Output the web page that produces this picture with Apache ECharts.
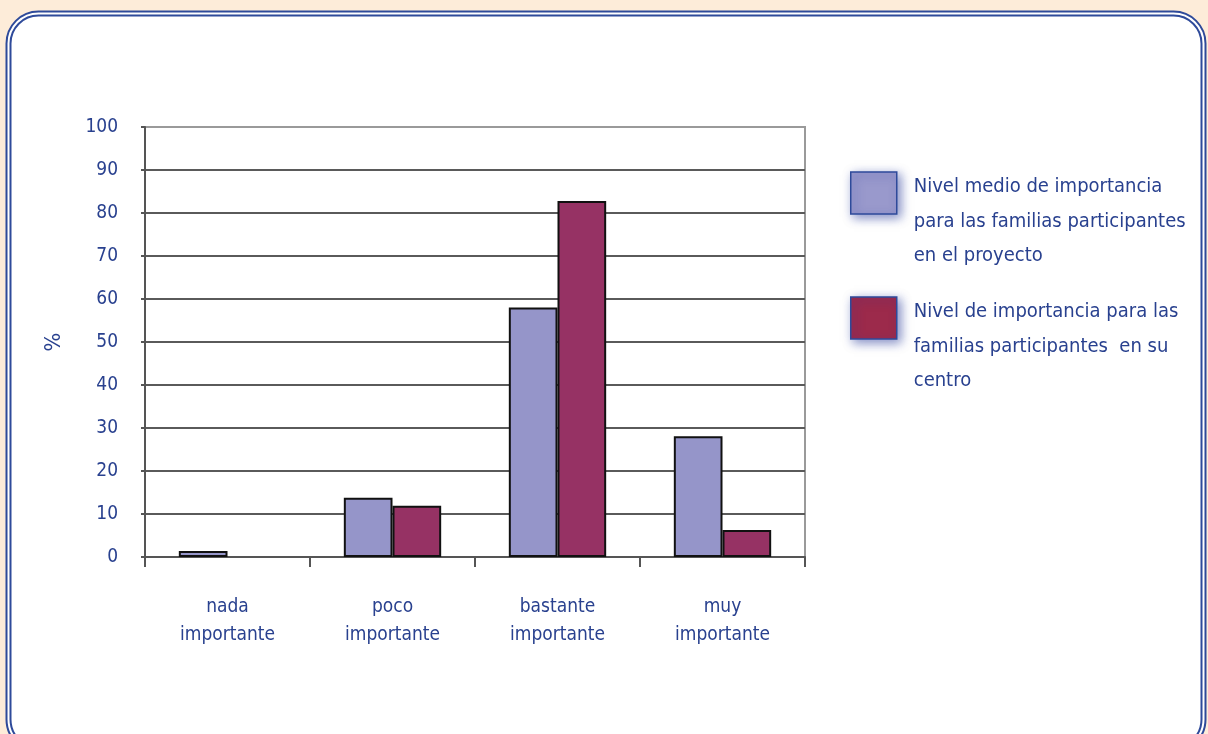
<!DOCTYPE html>
<html>
<head>
<meta charset="utf-8">
<script src="https://cdn.jsdelivr.net/npm/echarts@6/dist/echarts.min.js"></script>
<style>
html,body{margin:0;padding:0;background:#fdecd9;}
#chart{width:1208px;height:734px;}
</style>
</head>
<body>
<div id="chart"></div>
<script>
const categories = ['nada\nimportante', 'poco\nimportante', 'bastante\nimportante', 'muy\nimportante'];
const seriesNames = ['Nivel medio de importancia para las familias participantes en el proyecto',
                     'Nivel de importancia para las familias participantes en su centro'];
const legendLabels = ['Nivel medio de importancia\npara las familias participantes\nen el proyecto',
                      'Nivel de importancia para las\nfamilias participantes  en su\ncentro'];
const valuesProyecto = [1.4, 13.8, 58.0, 28.1];
const valuesCentro = [0, 11.9, 82.8, 6.3];
const yTicks = {min: 0, max: 100, interval: 10};
const yName = '%';

const FONT = '"DejaVu Sans Condensed", "Liberation Sans Narrow", "Noto Sans", sans-serif';
const TXT = '#29418f';
const BLUE = '#2e4a9a';

const chart = echarts.init(document.getElementById('chart'));

function legendFor(i, top, color) {
  return {
    show: true,
    orient: 'vertical',
    left: 850,
    top: top,
    padding: 0,
    icon: 'rect',
    itemWidth: 46,
    itemHeight: 42,
    selectedMode: false,
    data: [{name: seriesNames[i], itemStyle: {color: color}}],
    formatter: function () {
      return '{sp| }\n' + legendLabels[i].split('\n').map(function (l) { return '{t|' + l + '}'; }).join('\n');
    },
    itemStyle: {
      borderColor: BLUE, borderWidth: 1.5,
      shadowBlur: 10, shadowColor: 'rgba(30,50,150,0.55)', shadowOffsetX: 3, shadowOffsetY: 3
    },
    textStyle: {
      color: TXT, fontFamily: FONT, fontSize: 20, lineHeight: 34.5,
      padding: [0, 0, 0, 12],
      rich: {
        sp: {fontSize: 4, lineHeight: 57, fontFamily: FONT},
        t: {color: TXT, fontFamily: FONT, fontSize: 20, lineHeight: 34.5}
      }
    }
  };
}

function barData(values) {
  return values.map(function (v) {
    return v === 0 ? {value: v, itemStyle: {borderWidth: 0}} : v;
  });
}

chart.setOption({
  backgroundColor: '#fdecd9',
  animation: false,
  graphic: [
    {type: 'rect', z: -10, silent: true,
     shape: {x: 6.5, y: 11.5, width: 1199, height: 740, r: 32},
     style: {fill: '#ffffff', stroke: BLUE, lineWidth: 2}},
    {type: 'rect', z: -9, silent: true,
     shape: {x: 10.5, y: 15.5, width: 1191, height: 732, r: 28},
     style: {fill: '#ffffff', stroke: BLUE, lineWidth: 2}}
  ],
  grid: {left: 145, right: 403, top: 127, bottom: 177, show: true,
         borderColor: '#9a9a9a', borderWidth: 2, backgroundColor: 'transparent'},
  legend: [legendFor(0, 112.75, '#9999cc'), legendFor(1, 237.75, '#9c2a4b')],
  xAxis: {
    type: 'category',
    data: categories,
    axisLine: {lineStyle: {color: '#555', width: 2}},
    axisTick: {show: true, length: 10, lineStyle: {color: '#555', width: 2}},
    axisLabel: {color: TXT, fontFamily: FONT, fontSize: 19, lineHeight: 28, margin: 36}
  },
  yAxis: {
    type: 'value',
    min: yTicks.min, max: yTicks.max, interval: yTicks.interval,
    name: yName,
    nameLocation: 'middle',
    nameGap: 80,
    nameRotate: 90,
    nameTextStyle: {color: TXT, fontFamily: FONT, fontSize: 22},
    axisLine: {show: true, lineStyle: {color: '#555', width: 2}},
    axisTick: {show: true, length: 4, lineStyle: {color: '#555', width: 2}},
    axisLabel: {color: TXT, fontFamily: FONT, fontSize: 19, margin: 27},
    splitLine: {show: true, showMaxLine: false, lineStyle: {color: '#5a5a5a', width: 2}}
  },
  series: [
    {name: seriesNames[0], type: 'bar', data: barData(valuesProyecto), barGap: '0%', barCategoryGap: '41%',
     itemStyle: {color: '#9595c9', borderColor: '#111', borderWidth: 2}},
    {name: seriesNames[1], type: 'bar', data: barData(valuesCentro), barGap: '0%', barCategoryGap: '41%',
     itemStyle: {color: '#963264', borderColor: '#111', borderWidth: 2}}
  ]
});
</script>
</body>
</html>
